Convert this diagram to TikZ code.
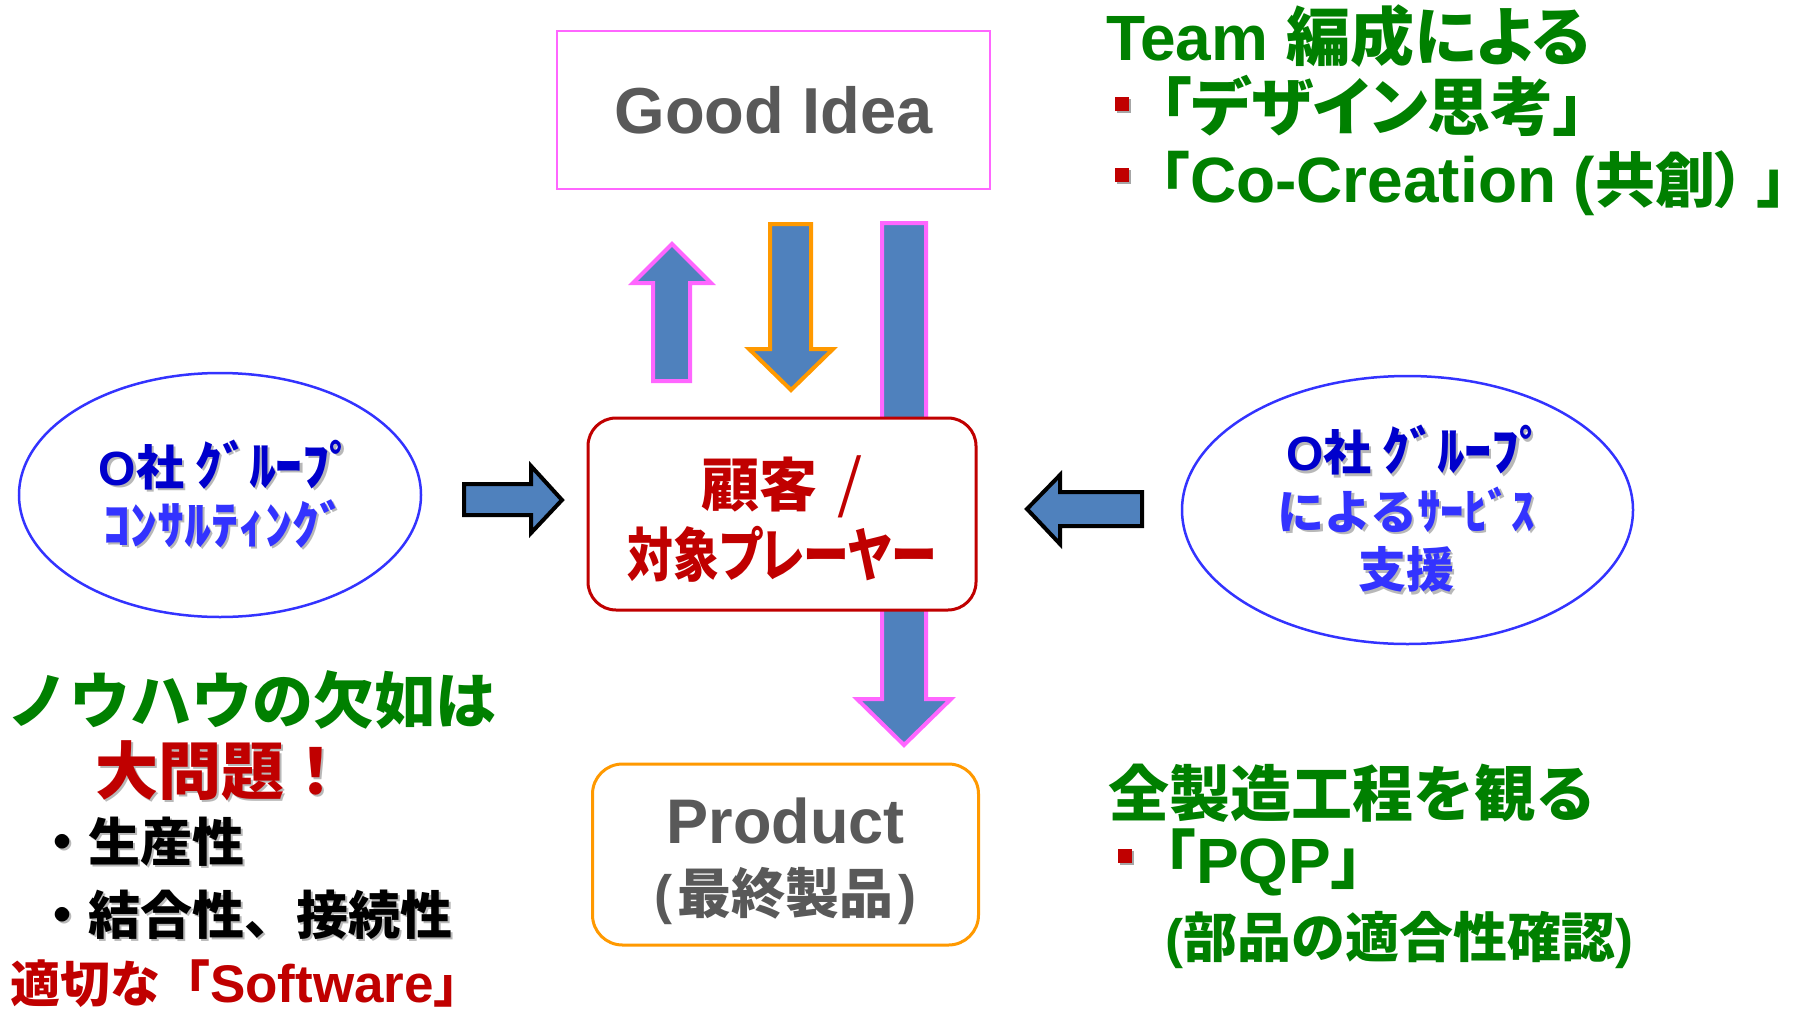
\documentclass[tikz,border=0pt]{standalone}
\usepackage{graphicx}
\usepackage{fontspec}
\setmainfont{Noto Sans CJK JP}
\newfontfamily\jpm{Noto Sans CJK JP}
\newfontfamily\jpp{Noto Sans CJK JP}[RawFeature=+palt]
\newfontfamily\la{Liberation Sans}
\usetikzlibrary{shapes.geometric,shadows}
\definecolor{ared}{HTML}{C00000}
\definecolor{tgreen}{HTML}{008000}
\definecolor{tgray}{HTML}{595959}
\definecolor{dblue}{HTML}{0000CC}
\definecolor{lblue}{HTML}{3333FF}
\definecolor{ablue}{HTML}{4F81BD}
\definecolor{apink}{HTML}{FF66FF}
\definecolor{aorange}{HTML}{FF9900}
\newcommand\shd[1]{\rlap{\hspace{2.5pt}\raisebox{-2.5pt}{\textcolor{black!28}{#1}}}#1\hspace{2.5pt}}
\newcommand\fz[2]{\fontsize{#1pt}{#2pt}\selectfont}
\newcommand\hk[3][1]{\scalebox{#1}[#2]{#3}}
\begin{document}
\begin{tikzpicture}[x=1pt,y=-1pt,
  every node/.style={inner sep=0pt,outer sep=0pt},
  pinkarrow/.style={fill=ablue,draw=apink,line width=4pt,line join=miter},
  orangearrow/.style={fill=ablue,draw=aorange,line width=4pt,line join=miter},
  blockarrow/.style={fill=ablue,draw=black,line width=4pt,line join=miter},
  ideabox/.style={draw=apink,line width=2.5pt,fill=white,font=\la\bfseries\fz{65}{70},text=tgray},
  custbox/.style={draw=ared,line width=3pt,fill=white,rounded corners=28pt},
  custtext/.style={font=\jpp\bfseries\fz{58}{70},text=ared,align=center},
  prodbox/.style={draw=aorange,line width=3pt,fill=white,rounded corners=30pt},
  prodtext/.style={font=\la\bfseries\fz{63}{70},text=tgray,align=center},
  ellnode/.style={ellipse,draw=lblue,line width=2.5pt,fill=white,align=center,font=\jpm\bfseries\fz{48}{59}},
  txt/.style={anchor=base west},
  bulletbox/.style={rectangle,fill=ared,minimum size=14pt,
    drop shadow={shadow xshift=2pt,shadow yshift=-2pt,opacity=0.35,fill=black}}
]
\fill[white] (0,0) rectangle (1803,1009);
\useasboundingbox (0,0) rectangle (1803,1009);

% vertical arrows (behind the boxes)
\draw[pinkarrow] (882,223) -- (926,223) -- (926,699) -- (951,699) -- (904,745) -- (857,699) -- (882,699) -- cycle;
\draw[pinkarrow] (672,244) -- (711,283) -- (690,283) -- (690,381) -- (653,381) -- (653,283) -- (633,283) -- cycle;
\draw[orangearrow] (770,224) -- (811,224) -- (811,349) -- (833,349) -- (791,390) -- (749,349) -- (770,349) -- cycle;

% horizontal block arrows
\draw[blockarrow] (464,484) -- (531,484) -- (531,466) -- (562,500) -- (531,533) -- (531,515) -- (464,515) -- cycle;
\draw[blockarrow] (1142,492) -- (1060,492) -- (1060,475) -- (1027,509) -- (1060,544) -- (1060,526) -- (1142,526) -- cycle;

% boxes
\node[ideabox,minimum width=433pt,minimum height=158pt] (idea) at (773.5,110) {Good Idea};
\node[custbox,minimum width=388pt,minimum height=192pt] (cust) at (782,514) {};
\node[custtext] (custlabel) at (782,519) {顧客\hspace{20pt}{\mdseries\fz{64}{70}/}\\\scalebox{0.79}[1]{対象プレーヤー}};
\node[prodbox,minimum width=386pt,minimum height=181pt] (prod) at (785.5,854.5) {};
\node[prodtext] (prodlabel) at (785.5,861.5) {Product\\\fz{54}{70}(\hspace{5pt}{\jpm 最終製品}\hspace{5pt})};

% ellipses
\node[ellnode,minimum width=402pt,minimum height=244pt] (lell) at (220,495)
  {\hspace{18pt}\textcolor{dblue}{\shd{{\la O}社 \hk[1.12]{1.1}{ｸﾞﾙｰﾌﾟ}}}\\\hspace{12pt}\textcolor{lblue}{\fz{52}{59}\shd{\hk[1.04]{1}{ｺﾝｻﾙﾃｨﾝｸﾞ}}}};
\node[ellnode,minimum width=451pt,minimum height=268pt,font=\jpm\bfseries\fz{48}{58.5}] (rell) at (1407.5,510)
  {\hspace{20pt}\textcolor{dblue}{\shd{{\la O}社 \hk[1.14]{1.1}{ｸﾞﾙｰﾌﾟ}}}\\\textcolor{lblue}{\fz{47}{58.5}\shd{による\hk{1.05}{ｻｰﾋﾞｽ}}}\\\textcolor{lblue}{\shd{支援}}};

% top right text
\node[txt,text=tgreen,font=\jpp\bfseries\fz{64}{70}] (team) at (1106,60) {{\la Team }編成による};
\node[bulletbox] (b1) at (1122,104) {};
\node[txt,text=tgreen,font=\jpp\bfseries\fz{63}{70}] (design) at (1160,130) {「デザイン思考」};
\node[bulletbox] (b2) at (1122,175) {};
\node[txt,text=tgreen,font=\jpp\bfseries\fz{60}{70}] (cocre) at (1160,202) {「{\la\fz{64}{70}Co-Creation (}共創）\hspace{12pt}」};

% bottom right text
\node[txt,text=tgreen,font=\jpm\bfseries\fz{61}{70}] (zen) at (1108,816) {全製造工程を観る};
\node[bulletbox] (b3) at (1125,856) {};
\node[txt,text=tgreen,font=\jpp\bfseries\fz{64}{70}] (pqp) at (1164,883) {「{\la PQP}」};
\node[txt,text=tgreen,font=\jpm\bfseries\fz{54}{70}] (buhin) at (1165,957) {{\la (}部品の適合性確認{\la )}};

% bottom left text
\node[txt,text=tgreen,font=\jpm\bfseries\fz{61}{70}] (know) at (8,723) {ノウハウの欠如は};
\node[txt,text=ared,font=\jpm\bfseries\fz{63}{70}] (dai) at (95,794) {\shd{大問題！}};
\node[txt,text=black,font=\jpm\bfseries\fz{52}{70}] (sei) at (36,861) {\shd{・生産性}};
\node[txt,text=black,font=\jpm\bfseries\fz{52}{70}] (ketsu) at (36,934) {\shd{・結合性、接続性}};
\node[txt,text=ared,font=\jpm\bfseries\fz{50}{70}] (teki) at (10,1002) {適切な「{\la\fz{53}{70}Software}」};
\end{tikzpicture}
\end{document}
